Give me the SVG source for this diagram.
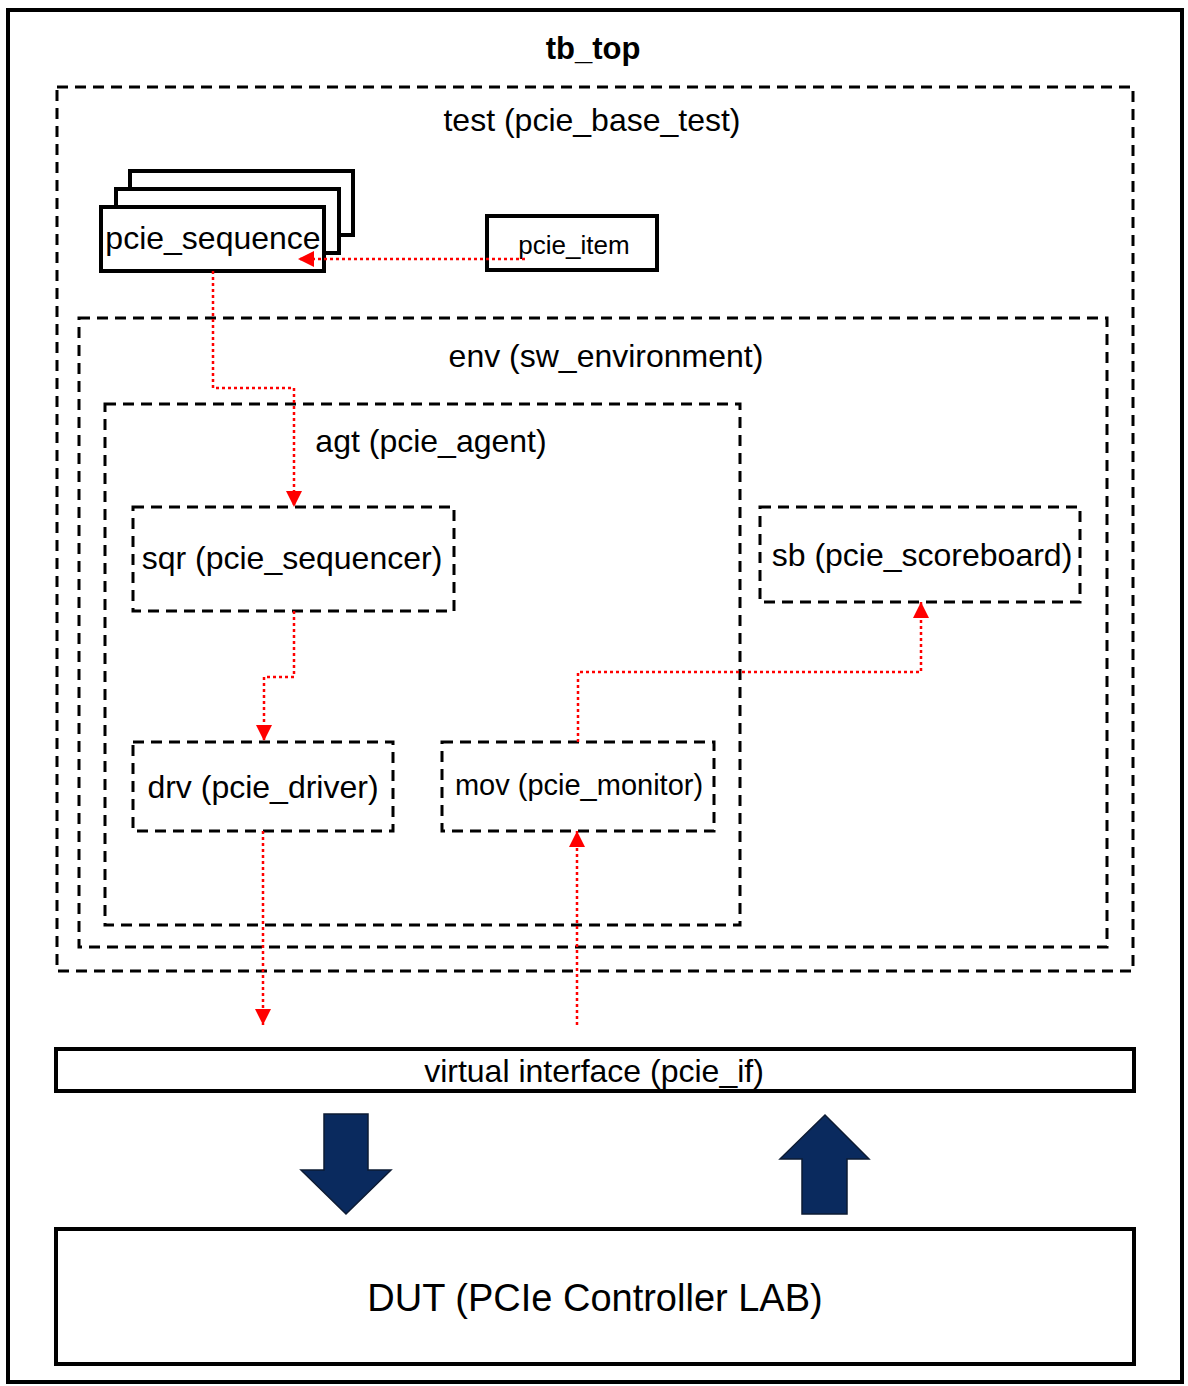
<svg xmlns="http://www.w3.org/2000/svg" width="1188" height="1386" viewBox="0 0 1188 1386">
<defs>
<style>
text{font-family:"Liberation Sans",Arial,sans-serif;fill:#000;text-anchor:middle}
.solid{fill:#fff;stroke:#000;stroke-width:4}
.dash{fill:none;stroke:#000;stroke-width:3;stroke-dasharray:11 7}
.dashw{fill:#fff;stroke:#000;stroke-width:3;stroke-dasharray:11 7}
.conn{fill:none;stroke:#ff0000;stroke-width:2.5;stroke-dasharray:3 3;marker-end:url(#ah)}
.blk{fill:#0a2a5e;stroke:#0d1b33;stroke-width:1.5}
</style>
<marker id="ah" viewBox="0 0 16 16" refX="16" refY="8" markerWidth="16" markerHeight="16" markerUnits="userSpaceOnUse" orient="auto">
<path d="M0 0 L16 8 L0 16 z" fill="#ff0000"/>
</marker>
</defs>
<rect width="1188" height="1386" fill="#fff"/>
<g id="tb_top">
<rect x="8" y="10" width="1174" height="1372" class="solid"/>
<text x="593" y="59" font-size="31" font-weight="bold">tb_top</text>
</g>
<g id="test">
<rect x="57" y="87" width="1076" height="884" class="dash"/>
<text x="592" y="131" font-size="32">test (pcie_base_test)</text>
</g>
<g id="pcie_sequence">
<rect x="130" y="171" width="223" height="64" class="solid"/>
<rect x="116" y="189" width="223" height="64" class="solid"/>
<rect x="101" y="207" width="223" height="64" class="solid"/>
<text x="213" y="249" font-size="32">pcie_sequence</text>
</g>
<g id="pcie_item">
<rect x="487" y="216" width="170" height="54" class="solid"/>
<text x="574" y="254" font-size="26">pcie_item</text>
</g>
<g id="env">
<rect x="79" y="318" width="1028" height="629" class="dash"/>
<text x="606" y="367" font-size="32">env (sw_environment)</text>
</g>
<g id="agt">
<rect x="105" y="404" width="635" height="521" class="dash"/>
<text x="431" y="452" font-size="32">agt (pcie_agent)</text>
</g>
<g id="sqr">
<rect x="133" y="507" width="321" height="104" class="dash"/>
<text x="292" y="569" font-size="32">sqr (pcie_sequencer)</text>
</g>
<g id="sb">
<rect x="760" y="507" width="320" height="95" class="dash"/>
<text x="922" y="566" font-size="32">sb (pcie_scoreboard)</text>
</g>
<g id="drv">
<rect x="133" y="742" width="260" height="89" class="dash"/>
<text x="263" y="798" font-size="32">drv (pcie_driver)</text>
</g>
<g id="mov">
<rect x="442" y="742" width="272" height="89" class="dash"/>
<text x="579" y="795" font-size="29">mov (pcie_monitor)</text>
</g>
<g id="vif">
<rect x="56" y="1049" width="1078" height="42" class="solid"/>
<text x="594" y="1082" font-size="32">virtual interface (pcie_if)</text>
</g>
<g id="dut">
<rect x="56" y="1229" width="1078" height="135" class="solid"/>
<text x="595" y="1311" font-size="38">DUT (PCIe Controller LAB)</text>
</g>
<g id="arrow_down">
<polygon class="blk" points="324,1114 368,1114 368,1170 391,1170 346,1214 301,1170 324,1170"/>
</g>
<g id="arrow_up">
<polygon class="blk" points="825,1115 869,1159 847,1159 847,1214 802,1214 802,1159 780,1159"/>
</g>
<g id="connectors">
<path class="conn" d="M525 259 H298"/>
<path class="conn" d="M213 271 V388 H294 V507"/>
<path class="conn" d="M294 611 V677 H264 V741"/>
<path class="conn" d="M578 742 V672 H921 V602"/>
<path class="conn" d="M263 831 V1025"/>
<path class="conn" d="M577 1025 V831"/>
</g>
</svg>
